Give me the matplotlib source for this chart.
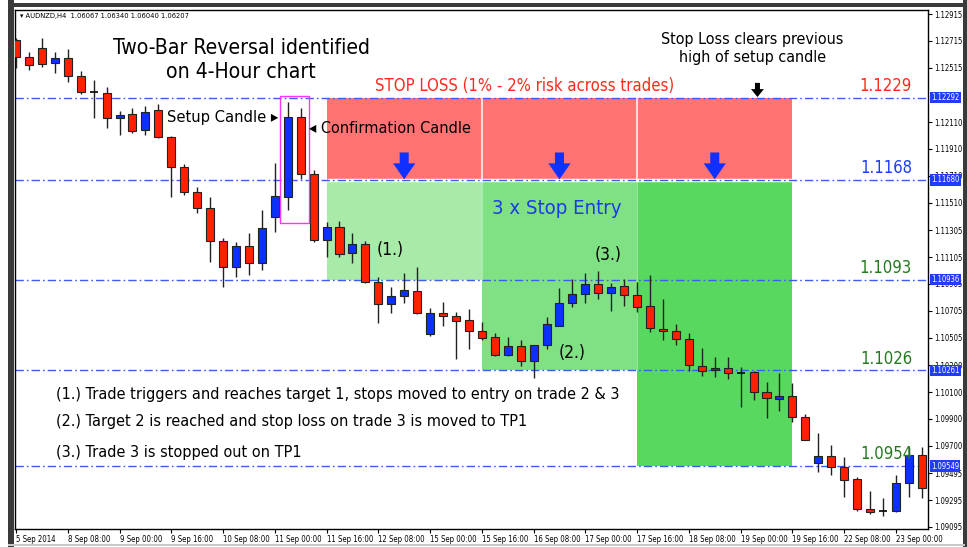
import numpy as np
import matplotlib.pyplot as plt
from matplotlib.patches import Rectangle
from matplotlib import transforms
from matplotlib import font_manager

# AUDNZD H4 candles (bar 0 = 5 Sep 2014 16:00)
opens = [1.12722, 1.12597, 1.12664, 1.12550, 1.12588, 1.12456, 1.12337, 1.12329, 1.12139, 1.12171,
         1.12052, 1.12200, 1.11999, 1.11776, 1.11592, 1.11470, 1.11227, 1.11029, 1.11190, 1.11063,
         1.11401, 1.11555, 1.12151, 1.11724, 1.11232, 1.11331, 1.11133, 1.11200, 1.10917, 1.10753,
         1.10817, 1.10852, 1.10530, 1.10686, 1.10668, 1.10636, 1.10554, 1.10508, 1.10376, 1.10445,
         1.10333, 1.10450, 1.10594, 1.10761, 1.10830, 1.10904, 1.10840, 1.10890, 1.10823, 1.10743,
         1.10569, 1.10554, 1.10493, 1.10296, 1.10264, 1.10281, 1.10239, 1.10251, 1.10098, 1.10046,
         1.10070, 1.09916, 1.09569, 1.09623, 1.09539, 1.09450, 1.09227, 1.09216, 1.09216, 1.09420,
         1.09631]
highs = [1.12737, 1.12632, 1.12739, 1.12632, 1.12655, 1.12491, 1.12424, 1.12374, 1.12193, 1.12218,
         1.12230, 1.12245, 1.12005, 1.11798, 1.11627, 1.11552, 1.11247, 1.11217, 1.11284, 1.11456,
         1.11806, 1.12262, 1.12215, 1.11754, 1.11369, 1.11374, 1.11284, 1.11227, 1.10959, 1.10882,
         1.10986, 1.11031, 1.10726, 1.10773, 1.10698, 1.10718, 1.10624, 1.10540, 1.10510, 1.10487,
         1.10452, 1.10661, 1.10875, 1.10942, 1.10989, 1.11001, 1.10912, 1.10942, 1.10922, 1.10972,
         1.10793, 1.10607, 1.10540, 1.10428, 1.10363, 1.10363, 1.10289, 1.10255, 1.10172, 1.10239,
         1.10165, 1.09936, 1.09792, 1.09705, 1.09618, 1.09467, 1.09365, 1.09311, 1.09482, 1.09693,
         1.09693]
lows = [1.12513, 1.12498, 1.12523, 1.12476, 1.12409, 1.12320, 1.12141, 1.12069, 1.12014, 1.12031,
        1.12014, 1.11992, 1.11552, 1.11567, 1.11433, 1.11071, 1.10884, 1.10959, 1.10972, 1.11009,
        1.11294, 1.11456, 1.11690, 1.11220, 1.11108, 1.11106, 1.11061, 1.10912, 1.10614, 1.10689,
        1.10763, 1.10680, 1.10517, 1.10594, 1.10346, 1.10420, 1.10487, 1.10370, 1.10368, 1.10296,
        1.10207, 1.10420, 1.10590, 1.10731, 1.10765, 1.10793, 1.10703, 1.10744, 1.10696, 1.10549,
        1.10487, 1.10450, 1.10257, 1.10219, 1.10212, 1.10197, 1.09986, 1.10040, 1.09904, 1.09961,
        1.09874, 1.09740, 1.09506, 1.09482, 1.09316, 1.09216, 1.09188, 1.09177, 1.09210, 1.09320,
        1.09308]
closes = [1.12595, 1.12536, 1.12543, 1.12588, 1.12454, 1.12337, 1.12337, 1.12143, 1.12163, 1.12044,
          1.12188, 1.12002, 1.11776, 1.11590, 1.11470, 1.11227, 1.11031, 1.11190, 1.11063, 1.11324,
          1.11560, 1.12151, 1.11724, 1.11232, 1.11331, 1.11126, 1.11200, 1.10922, 1.10753, 1.10817,
          1.10860, 1.10686, 1.10686, 1.10668, 1.10631, 1.10554, 1.10505, 1.10376, 1.10445, 1.10333,
          1.10450, 1.10607, 1.10761, 1.10828, 1.10904, 1.10840, 1.10880, 1.10819, 1.10735, 1.10579,
          1.10554, 1.10493, 1.10301, 1.10259, 1.10281, 1.10239, 1.10239, 1.10098, 1.10053, 1.10070,
          1.09916, 1.09743, 1.09626, 1.09539, 1.09445, 1.09227, 1.09210, 1.09216, 1.09422, 1.09631,
          1.09387]

date_labels = ['5 Sep 2014', '8 Sep 08:00', '9 Sep 00:00', '9 Sep 16:00', '10 Sep 08:00',
               '11 Sep 00:00', '11 Sep 16:00', '12 Sep 08:00', '15 Sep 00:00', '15 Sep 16:00',
               '16 Sep 08:00', '17 Sep 00:00', '17 Sep 16:00', '18 Sep 08:00', '19 Sep 00:00',
               '19 Sep 16:00', '22 Sep 08:00', '23 Sep 00:00']
price_ticks = [1.12915, 1.12715, 1.12515, 1.12110, 1.11910, 1.11710, 1.11510, 1.11305, 1.11105,
               1.10905, 1.10705, 1.10505, 1.10300, 1.10100, 1.09900, 1.09700, 1.09495, 1.09295,
               1.09095]

# stop, entry, TP1, TP2, TP3
levels = [1.12292, 1.11680, 1.10936, 1.10261, 1.09549]
level_names = ['1.1229', '1.1168', '1.1093', '1.1026', '1.0954']
level_colors = ['#ff2a1a', '#1a3cff', '#237a1e', '#237a1e', '#237a1e']
zone_edges = [24, 36, 48, 60]
green_shades = ['#a8eaa8', '#80e084', '#58d85e']

notes = ['(1.) Trade triggers and reaches target 1, stops moved to entry on trade 2 & 3',
         '(2.) Target 2 is reached and stop loss on trade 3 is moved to TP1',
         '(3.) Trade 3 is stopped out on TP1']


def nfont(size, weight='normal'):
    # narrow face for the hand-drawn style labels
    return font_manager.FontProperties(family='DejaVu Sans', stretch='condensed',
                                       size=size, weight=weight)


fig = plt.figure(figsize=(9.67, 5.47), dpi=100)
ax = fig.add_axes([15 / 967, 18 / 547, 913 / 967, 519 / 547])
ax.set_xlim(-0.077, 70.48)
ax.set_ylim(1.09080, 1.12945)

# outer window frame
frame = [((8 / 967, 0), 6 / 967, 1), ((8 / 967, 1 - 7 / 547), 957 / 967, 4 / 547),
         ((962.5 / 967, 0), 4.5 / 967, 1)]
for xy, w, hh in frame:
    fig.patches.append(Rectangle(xy, w, hh, transform=fig.transFigure, fc='#3a3a3a', ec='none'))
fig.patches.append(Rectangle((8 / 967, 1.5 / 547), 957 / 967, 1.5 / 547, transform=fig.transFigure,
                             fc='#c8c8c8', ec='none'))

stop, entry = levels[0], levels[1]

# risk / reward zones
for k in range(3):
    x0, x1 = zone_edges[k], zone_edges[k + 1]
    ax.add_patch(Rectangle((x0, entry), x1 - x0, stop - entry, fc='#ff7373', ec='none', zorder=1))
    ax.add_patch(Rectangle((x0, levels[k + 2]), x1 - x0, entry - levels[k + 2],
                           fc=green_shades[k], ec='none', zorder=1))
for k in (1, 2):
    ax.vlines(zone_edges[k], entry, stop, color='white', lw=1.2, alpha=0.9, zorder=1.5)
    ax.vlines(zone_edges[k], levels[k + 1], entry, color='white', lw=0.8, alpha=0.35, zorder=1.5)
ax.hlines(entry, zone_edges[0], zone_edges[-1], color='white', lw=2.5, zorder=1.5)

for lv in levels:
    ax.axhline(lv, color='#3d5cf5', lw=1, ls=(0, (6, 2.2, 1.2, 2.2)), zorder=2)

# candles
x = np.arange(len(opens))
o = np.array(opens)
h = np.array(highs)
l = np.array(lows)
c = np.array(closes)
up = c > o
dn = c < o
flat = c == o
ax.vlines(x, l, h, color='#222222', lw=1, zorder=3)
ax.bar(x[up], (c - o)[up], bottom=o[up], width=0.62, color='#0c30ff', edgecolor='#222222',
       lw=0.8, zorder=4)
ax.bar(x[dn], (o - c)[dn], bottom=c[dn], width=0.62, color='#ff2000', edgecolor='#222222',
       lw=0.8, zorder=4)
ax.hlines(o[flat], x[flat] - 0.31, x[flat] + 0.31, color='#111111', lw=1.3, zorder=4)

# box around setup + confirmation candles
ax.add_patch(Rectangle((20.4, 1.11357), 2.24, 1.12305 - 1.11357, fill=False, ec='#ff33ff',
                       lw=1, zorder=5))

# axes styling (MT4 look)
for s in ax.spines.values():
    s.set_color('black')
    s.set_linewidth(1)
ax.yaxis.tick_right()
ax.set_yticks(price_ticks)
ax.set_yticklabels(['%.5f' % t for t in price_ticks], fontproperties=nfont(5.5))
ax.tick_params(axis='y', length=3, pad=1.5, direction='out')
ax.set_xticks(x[::4][:len(date_labels)])
ax.set_xticklabels(date_labels, fontproperties=nfont(5.6))
ax.tick_params(axis='x', length=3, pad=1, direction='out')
for t in ax.get_xticklabels():
    t.set_ha('left')

bt = transforms.blended_transform_factory(ax.transAxes, ax.transData)
for lv in levels:
    ax.text(1.0035, lv, '%.5f' % lv, transform=bt, fontproperties=nfont(5.5), color='white',
            ha='left', va='center', zorder=10, clip_on=False,
            bbox=dict(boxstyle='square,pad=0.15', fc='#1f3cff', ec='none'))

ax.text(0.006, 0.988, '\u25be AUDNZD,H4  1.06067 1.06340 1.06040 1.06207', transform=ax.transAxes,
        fontproperties=nfont(5.4), va='center', ha='left')

# level labels on the right
for lv, name, col in zip(levels, level_names, level_colors):
    ax.annotate(name, (69.24, lv), xytext=(0, 2), textcoords='offset points', ha='right',
                va='bottom', fontproperties=nfont(12), color=col, zorder=6)

# annotations
ax.text(17.4, 1.12573, 'Two-Bar Reversal identified\non 4-Hour chart', ha='center', va='center',
        fontproperties=nfont(15.2), linespacing=1.3, zorder=6)
ax.text(20.25, 1.12141, 'Setup Candle \u25b8', ha='right', va='center',
        fontproperties=nfont(11.8), zorder=6)
ax.text(22.64, 1.12059, '\u25c2 Confirmation Candle', ha='left', va='center',
        fontproperties=nfont(11.6), zorder=6)
ax.text(39.3, 1.12379, 'STOP LOSS (1% - 2% risk across trades)', ha='center', va='center',
        fontproperties=nfont(12), color='#ff2a1a', zorder=6)
ax.text(56.9, 1.12658, 'Stop Loss clears previous\nhigh of setup candle', ha='center',
        va='center', fontproperties=nfont(11.5), linespacing=1.25, zorder=6)
ax.annotate('', xy=(57.3, stop + 0.00005), xytext=(57.3, 1.12402),
            arrowprops=dict(arrowstyle='simple,head_length=0.95,head_width=1.55,tail_width=0.6',
                            fc='black', ec='none', mutation_scale=6, shrinkA=0, shrinkB=0),
            zorder=6)
for k in range(3):
    xc = (zone_edges[k] + zone_edges[k + 1]) / 2
    ax.annotate('', xy=(xc, entry + 0.00004), xytext=(xc, entry + 0.00204),
                arrowprops=dict(arrowstyle='simple,head_length=1.15,head_width=1.6,tail_width=0.65',
                                fc='#1030ff', ec='none', mutation_scale=10, shrinkA=0, shrinkB=0),
                zorder=6)
ax.text(41.8, 1.11470, '3 x Stop Entry', ha='center', va='center', fontproperties=nfont(14.6),
        color='#1a3ce8', zorder=6)
ax.text(28.9, 1.11158, '(1.)', ha='center', va='center', fontproperties=nfont(12.5), zorder=6)
ax.text(43.0, 1.10391, '(2.)', ha='center', va='center', fontproperties=nfont(12.5), zorder=6)
ax.text(45.75, 1.11121, '(3.)', ha='center', va='center', fontproperties=nfont(12.5), zorder=6)

for note, yv in zip(notes, [1.10085, 1.09877, 1.09653]):
    ax.text(3.09, yv, note, ha='left', va='center', fontproperties=nfont(11.6), zorder=6)

fig.savefig('out.png', dpi=100)
